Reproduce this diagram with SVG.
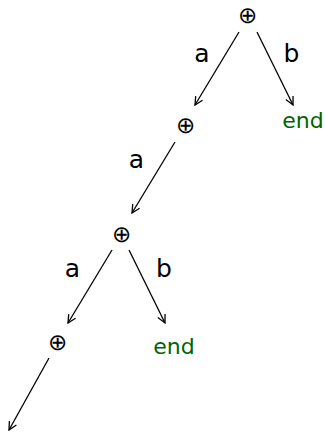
<svg xmlns="http://www.w3.org/2000/svg" width="326" height="433" viewBox="0 0 326 433">
<style>
.op{font-family:"DejaVu Sans",sans-serif;font-weight:200;font-size:23px;fill:#000;text-anchor:middle;dominant-baseline:central;font-variant-emoji:text}
.lbl{font-family:"DejaVu Sans",sans-serif;font-size:25px;fill:#000;text-anchor:middle}
.end{font-family:"DejaVu Sans",sans-serif;font-size:22px;fill:#006400;text-anchor:middle}
.edge{stroke:#000;stroke-width:1.3;fill:none;marker-end:url(#arr)}
</style>
<defs>
<marker id="arr" viewBox="0 0 10 10" refX="9" refY="5" markerWidth="10" markerHeight="10" markerUnits="userSpaceOnUse" orient="auto">
<path d="M1,1 L9,5 L1,9" fill="none" stroke="#000" stroke-width="1.3"/>
</marker>
</defs>
<g id="n1"><text class="op" x="247" y="15">⊕︎</text></g>
<g id="n2"><text class="op" x="185" y="124.5">⊕︎</text></g>
<g id="end1"><text class="end" x="303" y="128">end</text></g>
<g id="n3"><text class="op" x="121" y="233.5">⊕︎</text></g>
<g id="n4"><text class="op" x="57" y="341.5">⊕︎</text></g>
<g id="end2"><text class="end" x="174" y="354">end</text></g>
<g id="connectors">
<line class="edge" x1="239" y1="32" x2="195" y2="105"/>
<line class="edge" x1="257" y1="32" x2="293" y2="105"/>
<line class="edge" x1="175" y1="142" x2="132" y2="213"/>
<line class="edge" x1="112" y1="250" x2="68" y2="323"/>
<line class="edge" x1="129" y1="250" x2="165" y2="323"/>
<line class="edge" x1="49" y1="358" x2="9" y2="430"/>
<text class="lbl" x="202" y="62">a</text>
<text class="lbl" x="291.5" y="62">b</text>
<text class="lbl" x="136.5" y="168">a</text>
<text class="lbl" x="72.5" y="277">a</text>
<text class="lbl" x="164" y="277">b</text>
</g>
</svg>
